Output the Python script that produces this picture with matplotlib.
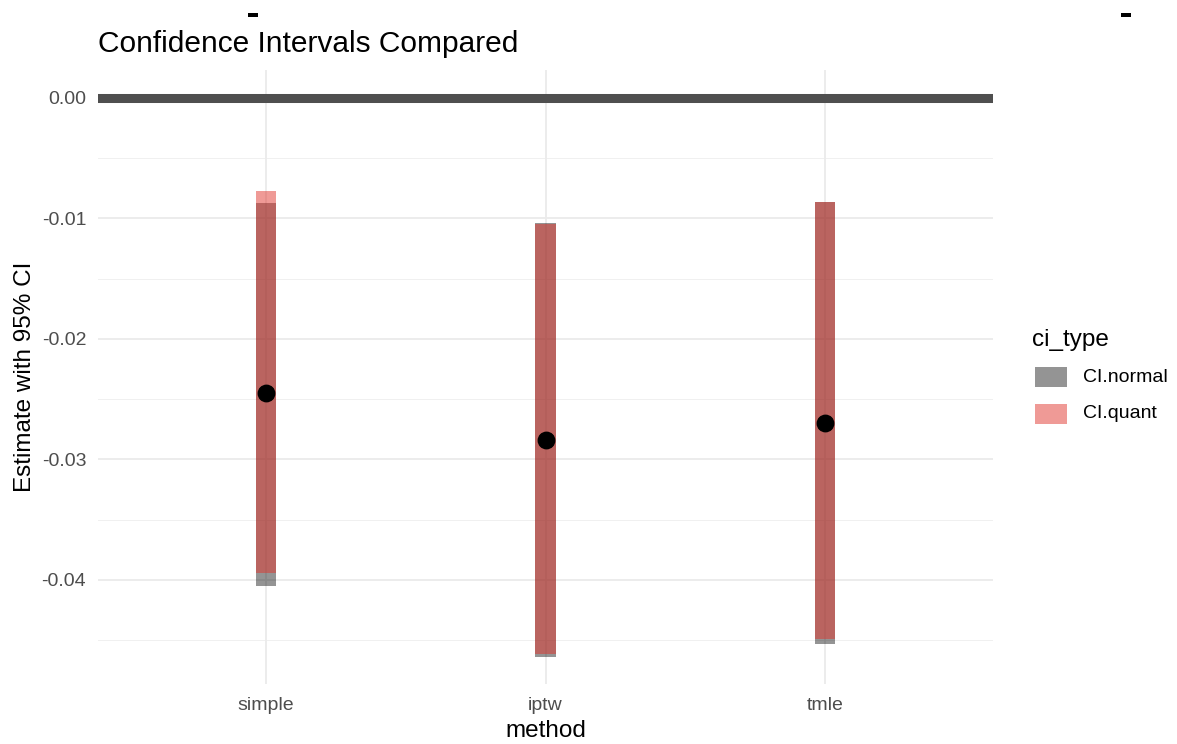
import matplotlib
matplotlib.use("Agg")
import matplotlib.pyplot as plt
from matplotlib.patches import Rectangle
import numpy as np

plt.rcParams['font.family'] = ['Liberation Sans', 'DejaVu Sans']

# data
methods = ['simple', 'iptw', 'tmle']
estimate = [-0.0245, -0.0284, -0.0270]
normal_lo = [-0.0405, -0.0464, -0.0453]
normal_hi = [-0.0087, -0.0104, -0.0086]
quant_lo = [-0.0394, -0.0461, -0.0449]
quant_hi = [-0.0077, -0.0105, -0.0086]
ci_types = ['CI.normal', 'CI.quant']
yticks = [0.0, -0.01, -0.02, -0.03, -0.04]
ytick_labels = ['0.00', '-0.01', '-0.02', '-0.03', '-0.04']

W, H = 1177, 744
fig = plt.figure(figsize=(W / 100, H / 100), dpi=100)
ax = fig.add_axes([98 / W, 1 - 684 / H, (993 - 98) / W, (684 - 70) / H])

def fx(px):
    return px / W

def fy(py):
    return 1 - py / H

col_normal = (0, 0, 0, 0.42)
col_quant = (0.88, 0.21, 0.18, 0.5)

x = np.arange(len(methods))
bw = 0.072

# grid
for t in yticks:
    ax.axhline(t, color='#ebebeb', lw=1.3, zorder=0)
for t in np.arange(-0.045, 0.001, 0.01):
    ax.axhline(t, color='#f0f0f0', lw=0.7, zorder=0)
for xi in x:
    ax.axvline(xi, color='#ebebeb', lw=1.3, zorder=0)

ax.axhline(0, color='#4f4f4f', lw=6.5, zorder=1)

ax.bar(x, np.array(normal_hi) - np.array(normal_lo), bottom=normal_lo, width=bw,
       color=col_normal, lw=0, zorder=2)
ax.bar(x, np.array(quant_hi) - np.array(quant_lo), bottom=quant_lo, width=bw,
       color=col_quant, lw=0, zorder=3)
ax.scatter(x, estimate, s=140, color='black', zorder=4)

ax.set_xlim(-0.6, 2.6)
ax.set_ylim(-0.04863, 0.00232)
ax.set_xticks(x)
ax.set_xticklabels(methods)
ax.set_yticks(yticks)
ax.set_yticklabels(ytick_labels)
ax.tick_params(axis='both', length=0, labelsize=14, labelcolor='#4d4d4d')
ax.tick_params(axis='y', pad=8.5)
ax.tick_params(axis='x', pad=9)
for s in ax.spines.values():
    s.set_visible(False)

ax.set_xlabel('method', fontsize=17.5, va='center')
ax.xaxis.set_label_coords(0.5, (684 - 731) / (684 - 70))
ax.set_ylabel('Estimate with 95% CI', fontsize=17.5, va='center')
ax.yaxis.set_label_coords((25 - 98) / (993 - 98), 0.5)
ax.set_title('Confidence Intervals Compared', loc='left', fontsize=21.5, pad=13)

# legend
fig.text(fx(1032), fy(340), 'ci_type', fontsize=17.5, ha='left', va='center')
key_y = [377, 414]
for lab, c, ky in zip(ci_types, [col_normal, col_quant], key_y):
    fig.add_artist(Rectangle((fx(1035), fy(ky + 10)), 32 / W, 20 / H,
                             transform=fig.transFigure, color=c, lw=0))
    fig.text(fx(1083), fy(ky), lab, fontsize=14, ha='left', va='center')

# small marks at the top edge
for px0 in [248, 1121]:
    fig.add_artist(Rectangle((fx(px0), fy(17)), 10 / W, 4 / H,
                             transform=fig.transFigure, color='black', lw=0))

fig.savefig('out.png', dpi=100)
